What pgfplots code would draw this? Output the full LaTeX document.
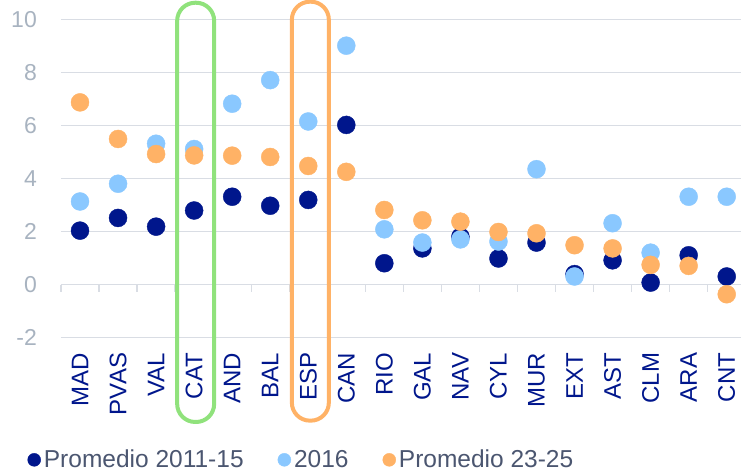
\documentclass[border=0pt]{standalone}
\usepackage{pgfplots}
\pgfplotsset{compat=1.18}
\usepackage{fontspec}
\setmainfont{Liberation Sans}
\definecolor{navy}{RGB}{0,22,140}
\definecolor{lblue}{RGB}{138,200,255}
\definecolor{orng}{RGB}{255,178,102}
\definecolor{grn}{RGB}{144,226,124}
\definecolor{gridc}{RGB}{217,221,228}
\definecolor{ylab}{RGB}{168,179,192}
\definecolor{legtxt}{RGB}{75,86,112}
\begin{document}
\begin{tikzpicture}
\begin{axis}[
  scale only axis,
  width=680pt, height=318pt,
  xmin=-0.5, xmax=17.376,
  ymin=-2, ymax=10,
  clip=false,
  axis line style={draw=none},
  major tick length=0pt,
  ytick={-2,0,...,10},
  ymajorgrids,
  grid style={gridc, line width=1.3pt},
  xtick={0,...,17},
  xticklabels={MAD,PVAS,VAL,CAT,AND,BAL,ESP,CAN,RIO,GAL,NAV,CYL,MUR,EXT,AST,CLM,ARA,CNT},
  xticklabel style={rotate=90, anchor=east, inner sep=0pt, text=navy, font=\fontsize{24}{27}\selectfont},
  xticklabel shift=15pt,
  yticklabel style={text=ylab, inner sep=0pt, font=\fontsize{23}{26}\selectfont},
  yticklabel shift=24pt,
  /pgf/number format/assume math mode=true,
  legend columns=3,
  legend style={draw=none, fill=none, inner sep=0pt, outer sep=0pt,
    at={(-0.04926,-0.384)}, anchor=west,
    font=\fontsize{24.5}{28}\selectfont, text=legtxt,
    nodes={inner xsep=3pt, inner ysep=0pt},
    /tikz/every even column/.append style={column sep=31pt}},
  legend image code/.code={\fill[#1] (0pt,0pt) circle (6.5pt);},
]
\addplot[only marks, mark=*, mark size=9pt, color=navy, mark options={draw=navy, fill=navy}] coordinates {
(0,2.04) (1,2.52) (2,2.19) (3,2.80) (4,3.32) (5,2.98) (6,3.20) (7,6.03) (8,0.81) (9,1.37)
(10,1.81) (11,0.99) (12,1.59) (13,0.40) (14,0.92) (15,0.08) (16,1.11) (17,0.31)};
\addlegendentry{Promedio 2011-15}
\addplot[only marks, mark=*, mark size=9pt, color=lblue, mark options={draw=lblue, fill=lblue}] coordinates {
(0,3.14) (1,3.81) (2,5.32) (3,5.12) (4,6.83) (5,7.72) (6,6.16) (7,9.02) (8,2.09) (9,1.59)
(10,1.71) (11,1.63) (12,4.36) (13,0.31) (14,2.32) (15,1.21) (16,3.32) (17,3.32)};
\addlegendentry{2016}
\addplot[only marks, mark=*, mark size=9pt, color=orng, mark options={draw=orng, fill=orng}] coordinates {
(0,6.88) (1,5.50) (2,4.93) (3,4.88) (4,4.87) (5,4.82) (6,4.48) (7,4.26) (8,2.82) (9,2.43)
(10,2.38) (11,1.99) (12,1.94) (13,1.49) (14,1.37) (15,0.75) (16,0.71) (17,-0.36)};
\addlegendentry{Promedio 23-25}
\pgfplotsinvokeforeach{-0.5,0.5,...,16.5}{
  \draw[gridc, line width=1.3pt] (axis cs:#1,0) -- ++(0pt,-7pt);
}
\draw[grn, line width=4pt, rounded corners=18pt] (axis cs:2.554,-5.18) rectangle (axis cs:3.526,10.64);
\draw[orng, line width=4pt, rounded corners=18pt] (axis cs:5.569,-5.13) rectangle (axis cs:6.541,10.68);
\end{axis}
\pgfresetboundingbox
\useasboundingbox (-61pt,-134.3pt) rectangle (680pt,337.7pt);
\end{tikzpicture}
\end{document}
